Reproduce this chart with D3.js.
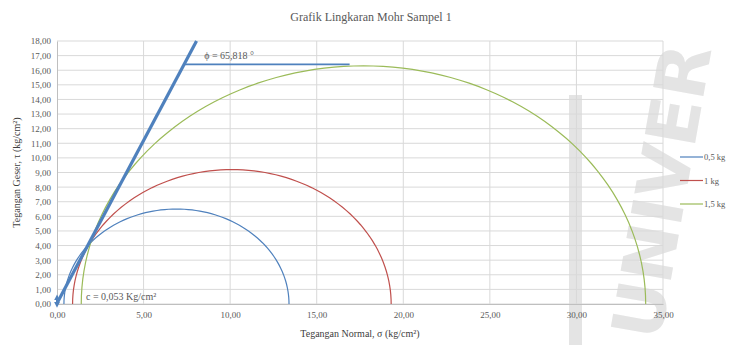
<!DOCTYPE html>
<html>
<head>
<meta charset="utf-8">
<script src="https://cdn.jsdelivr.net/npm/d3@7"></script>
<style>
  body { margin: 0; background: #fff; }
</style>
</head>
<body>
<div id="container"></div>
<script>
/* CONSTANTS AND GLOBALS */
const width = 731, height = 345;
const margin = { top: 41, bottom: 41, left: 57, right: 68 };
const serif = "'Liberation Serif', 'DejaVu Serif', serif";

/* DATA */
const series = ["0,5 kg", "1 kg", "1,5 kg"];
const sigma3 = [0.4, 0.9, 1.4];     // minor principal stress
const sigma1 = [13.4, 19.3, 34.0];  // major principal stress
const colors = ["#4f81bd", "#c0504d", "#9bbb59"];

const cohesion = 0.053;   // kg/cm2
const phiDeg = 65.818;    // friction angle
const phiLineTau = 16.4;  // level of the phi marker line
const phiLineEnd = 16.9;  // sigma where the phi marker line stops

const xTicks = [0, 5, 10, 15, 20, 25, 30, 35];
const yTicks = d3.range(0, 19, 1);

const locale = d3.formatLocale({ decimal: ",", thousands: ".", grouping: [3], currency: ["", ""] });
const fmt = locale.format(".2f");

/* SCALES */
const xScale = d3.scaleLinear().domain([0, 35]).range([margin.left, width - margin.right]);
const yScale = d3.scaleLinear().domain([0, 18]).range([height - margin.bottom, margin.top]);

const svg = d3.select("#container").append("svg")
  .attr("width", width).attr("height", height);

/* WATERMARK (behind everything) */
const wm = svg.append("g").attr("fill", "#e4e4e4");
wm.append("rect").attr("x", 569).attr("y", 95).attr("width", 13).attr("height", 250);
wm.append("text")
  .attr("transform", "translate(660,342) rotate(-80)")
  .style("font-family", "'DejaVu Sans', sans-serif")
  .style("font-weight", "bold")
  .style("font-size", "70px")
  .text("UNIVER");

/* GRIDLINES */
svg.append("g")
  .selectAll("line")
  .data(yTicks)
  .join("line")
  .attr("x1", xScale(0)).attr("x2", xScale(35))
  .attr("y1", d => yScale(d)).attr("y2", d => yScale(d))
  .attr("stroke", "#d9d9d9").attr("stroke-width", 1);

svg.append("g")
  .selectAll("line")
  .data(xTicks.slice(1))
  .join("line")
  .attr("x1", d => xScale(d)).attr("x2", d => xScale(d))
  .attr("y1", yScale(0)).attr("y2", yScale(18))
  .attr("stroke", "#d9d9d9").attr("stroke-width", 1);

/* AXES */
const xAxis = d3.axisBottom(xScale).tickValues(xTicks).tickFormat(fmt).tickSize(0).tickPadding(8);
svg.append("g")
  .attr("transform", `translate(0, ${yScale(0)})`)
  .call(xAxis)
  .call(g => g.select(".domain").attr("stroke", "#bfbfbf"))
  .call(g => g.selectAll("text").attr("fill", "#595959").style("font-size", "9px").style("font-family", serif));

const yAxis = d3.axisLeft(yScale).tickValues(yTicks).tickFormat(fmt).tickSize(0).tickPadding(6);
svg.append("g")
  .attr("transform", `translate(${xScale(0)}, 0)`)
  .call(yAxis)
  .call(g => g.select(".domain").attr("stroke", "#bfbfbf"))
  .call(g => g.selectAll("text").attr("fill", "#595959").style("font-size", "9px").style("font-family", serif));

/* MOHR CIRCLES */
const angles = d3.range(0, 181, 2);
const line = d3.line().x(d => xScale(d[0])).y(d => yScale(d[1]));

series.forEach((name, i) => {
  const c = (sigma1[i] + sigma3[i]) / 2, r = (sigma1[i] - sigma3[i]) / 2;
  const pts = angles.map(a => [c - r * Math.cos(a * Math.PI / 180), r * Math.sin(a * Math.PI / 180)]);
  svg.append("path")
    .attr("d", line(pts))
    .attr("fill", "none")
    .attr("stroke", colors[i])
    .attr("stroke-width", 1.2);
});

/* FAILURE ENVELOPE */
const tanPhi = Math.tan(phiDeg * Math.PI / 180);
const env = [[0, cohesion], [(18 - cohesion) / tanPhi, 18]];
svg.append("path")
  .attr("d", line(env))
  .attr("stroke", "#4f81bd").attr("stroke-width", 3.2).attr("fill", "none");

// phi marker line
svg.append("path")
  .attr("d", line([[(phiLineTau - cohesion) / tanPhi, phiLineTau], [phiLineEnd, phiLineTau]]))
  .attr("stroke", "#4f81bd").attr("stroke-width", 1.6).attr("fill", "none");

// cohesion arrow
const defs = svg.append("defs");
defs.append("marker").attr("id", "arr")
  .attr("viewBox", "0 0 10 10").attr("refX", 5).attr("refY", 5)
  .attr("markerWidth", 3).attr("markerHeight", 3).attr("orient", "auto-start-reverse")
  .append("path").attr("d", "M0,0 L10,5 L0,10 Z").attr("fill", "#4f81bd");
svg.append("path")
  .attr("d", line([[0, 0.45], [0, -0.05]]))
  .attr("stroke", "#4f81bd").attr("stroke-width", 2)
  .attr("marker-start", "url(#arr)").attr("marker-end", "url(#arr)");

/* ANNOTATIONS */
svg.append("text")
  .attr("x", xScale(8.5)).attr("y", yScale(16.75))
  .attr("fill", "#595959").style("font-size", "10px").style("font-family", serif)
  .text("ϕ = 65,818 °");

svg.append("text")
  .attr("x", xScale(1.5) + 3).attr("y", yScale(0.25))
  .attr("fill", "#595959").style("font-size", "10px").style("font-family", serif)
  .text("c = 0,053 Kg/cm²");

/* TITLES */
svg.append("text")
  .attr("x", 371).attr("y", 21).attr("text-anchor", "middle")
  .attr("fill", "#595959").style("font-size", "12px").style("font-family", serif)
  .text("Grafik Lingkaran Mohr Sampel 1");

svg.append("text")
  .attr("x", 360).attr("y", 337).attr("text-anchor", "middle")
  .attr("fill", "#404040").style("font-size", "10px").style("font-family", serif)
  .text("Tegangan Normal, σ (kg/cm²)");

svg.append("text")
  .attr("transform", `translate(20, ${(yScale(0) + yScale(18)) / 2}) rotate(-90)`)
  .attr("text-anchor", "middle")
  .attr("fill", "#404040").style("font-size", "10px").style("font-family", serif)
  .text("Tegangan Geser, τ (kg/cm²)");

/* LEGEND */
const legend = svg.append("g").attr("transform", "translate(680, 157)");
const items = legend.selectAll("g").data(series).join("g")
  .attr("transform", (d, i) => `translate(0, ${i * 23.5})`);
items.append("line").attr("x1", 0).attr("x2", 23).attr("y1", 0).attr("y2", 0)
  .attr("stroke", (d, i) => colors[i]).attr("stroke-width", 1.2);
items.append("text").attr("x", 24).attr("y", 3)
  .attr("fill", "#595959").style("font-size", "8.5px").style("font-family", serif)
  .text(d => d);
</script>
</body>
</html>
